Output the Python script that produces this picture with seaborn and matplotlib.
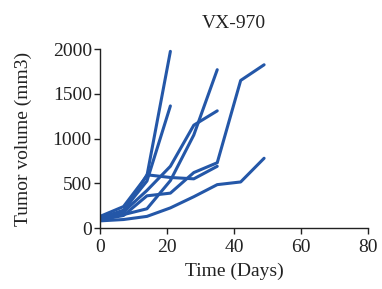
import pandas as pd
import matplotlib
matplotlib.use('Agg')
import matplotlib.pyplot as plt
import seaborn as sns

# tumor volume (mm3) per mouse, measured weekly
days = [0, 7, 14, 21, 28, 35, 42, 49]
mouse_a = [130, 240, 585, 1975]
mouse_b = [110, 200, 525, 1365]
mouse_c = [100, 150, 215, 530, 1040, 1770]
mouse_d = [120, 180, 420, 690, 1150, 1310]
mouse_e = [90, 140, 360, 390, 620, 730, 1650, 1825]
mouse_f = [80, 95, 130, 225, 350, 485, 515, 780]
mouse_g = [105, 170, 595, 565, 550, 690]

mice = {'A': mouse_a, 'B': mouse_b, 'C': mouse_c, 'D': mouse_d,
        'E': mouse_e, 'F': mouse_f, 'G': mouse_g}

rows = []
for name, vals in mice.items():
    for d, v in zip(days, vals):
        rows.append({'mouse': name, 'day': d, 'volume': v})
df = pd.DataFrame(rows)

sns.set_style('ticks')
plt.rcParams['font.family'] = ['Liberation Serif', 'DejaVu Serif']

fig = plt.figure(figsize=(3.82, 2.89), dpi=100)
ax = fig.add_axes([0.262, 0.211, 0.701, 0.619])

sns.lineplot(data=df, x='day', y='volume', units='mouse', estimator=None,
             color='#2457a8', linewidth=2.2, ax=ax)

ax.set_xlim(0, 80)
ax.set_ylim(0, 2000)
ax.set_xticks([0, 20, 40, 60, 80])
ax.set_yticks([0, 500, 1000, 1500, 2000])
ax.tick_params(labelsize=14, length=4, width=1, colors='#222222')
ax.tick_params(axis='x', pad=4)
ax.tick_params(axis='y', pad=2)
sns.despine(ax=ax)
for s in ['left', 'bottom']:
    ax.spines[s].set_color('#222222')
    ax.spines[s].set_linewidth(1)

ax.set_xlabel('Time (Days)', fontsize=14, labelpad=5, color='#222222')
ax.set_ylabel('Tumor volume (mm3)', fontsize=14, labelpad=15, color='#222222')
ax.set_title('VX-970', fontsize=14, pad=15, color='#222222')

fig.savefig('out.png', dpi=100)
